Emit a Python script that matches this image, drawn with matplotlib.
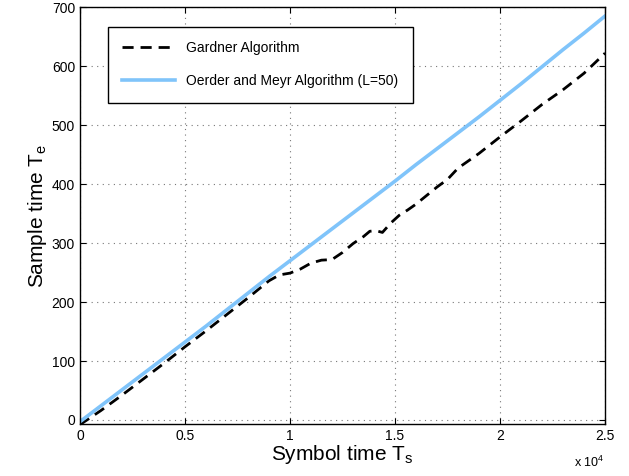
import matplotlib.pyplot as plt
from matplotlib.ticker import FuncFormatter

plt.rcParams['font.family'] = ['Liberation Sans', 'DejaVu Sans']

# symbol time (x) and sample time (y)
symbol_blue = [0, 1000, 2000, 3000, 4000, 5000, 6000, 7000, 8000, 9000, 10000,
               11000, 12000, 13000, 14000, 15000, 16000, 17000, 18000, 19000,
               20000, 21000, 22000, 23000, 24000, 25000]
oerder = [-3, 24, 51, 78, 105, 132, 159, 187, 215, 243, 270,
          297, 324, 351, 378, 405, 433, 460, 487, 514,
          542, 570, 599, 628, 656, 685]

symbol_gard = [0, 1000, 2000, 3000, 4000, 5000, 6000, 7000, 8000, 9000, 9500,
               10000, 10500, 11000, 11500, 12000, 12500, 13000, 13500, 13800,
               14100, 14400, 14800, 15200, 15600, 16000, 17000, 17500, 18000,
               19000, 20000, 21000, 22000, 23000, 24000, 25000]
gardner = [-8, 16, 42, 69, 96, 124, 151, 179, 207, 236, 246,
           249, 256, 266, 271, 272, 284, 299, 311, 320,
           321, 318, 334, 347, 356, 366, 395, 408, 427,
           452, 480, 507, 535, 560, 588, 622]

x_ticks = [0, 5000, 10000, 15000, 20000, 25000]
y_ticks = [0, 100, 200, 300, 400, 500, 600, 700]

fig = plt.figure(figsize=(6.29, 4.76), dpi=100)
ax = fig.add_axes([0.127, 0.109, 0.835, 0.876])

ax.plot(symbol_gard, gardner, '--', color='black', lw=2.0, dashes=(4, 2.5),
        label='Gardner Algorithm')
ax.plot(symbol_blue, oerder, '-', color='#80C4FA', lw=2.6,
        label='Oerder and Meyr Algorithm (L=50)')

ax.set_xlim(0, 25000)
ax.set_ylim(-7, 700)
ax.set_xticks(x_ticks)
ax.set_yticks(y_ticks)
ax.xaxis.set_major_formatter(FuncFormatter(lambda v, p: '%g' % (v / 1e4)))
ax.tick_params(direction='in', top=True, right=True, labelsize=10, length=4)
ax.grid(True, linestyle=(0, (1, 4)), color='#777777', lw=0.8)

for s in ax.spines.values():
    s.set_linewidth(1.0)

ax.set_xlabel('Symbol time T$_\\mathregular{s}$', fontsize=15, labelpad=0)
ax.set_ylabel('Sample time T$_\\mathregular{e}$', fontsize=15, labelpad=2)
fig.text(0.912, 0.018, 'x 10$^\\mathregular{4}$', fontsize=9)

leg = ax.legend(loc='upper left', bbox_to_anchor=(0.053, 0.953), fontsize=10,
                fancybox=False, edgecolor='black', framealpha=1,
                handlelength=3.8, borderpad=1.05, labelspacing=1.35,
                borderaxespad=0)
leg.get_frame().set_linewidth(1.0)

fig.savefig('out.png', dpi=100)
